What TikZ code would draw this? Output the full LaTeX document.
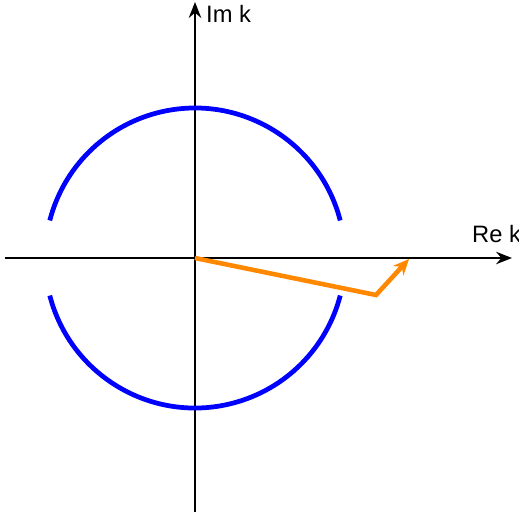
\documentclass[tikz,border=0pt]{standalone}
\usepackage{fontspec}
\setmainfont{Liberation Sans}
\usetikzlibrary{arrows.meta}
\definecolor{pathorange}{RGB}{255,136,0}
\begin{document}
\begin{tikzpicture}[x=0.02cm, y=0.02cm, font=\fontsize{13.5}{15}\selectfont,
  axis/.style={line width=1.6pt, -{Stealth[length=9pt, width=7pt]}},
  circ/.style={blue, line width=2.7pt},
  contour/.style={pathorange, line width=2.6pt, -{Stealth[length=9pt, width=8pt]}}]
\useasboundingbox (-195,-257) rectangle (324,258);
\coordinate (origin) at (0,0);
\coordinate (left) at (-190,0);
\coordinate (right) at (317,0);
\coordinate (bottom) at (0,-254);
\coordinate (top) at (0,256);
\draw[axis] (left) -- (right);
\draw[axis] (bottom) -- (top);
\node (im) [anchor=west] at (5,244) {Im k};
\node (re) [anchor=west] at (271,24) {Re k};
\draw[circ] (14.5:150) arc (14.5:165.5:150);
\draw[circ] (194.5:150) arc (194.5:345.5:150);
\coordinate (bend) at (181,-37);
\coordinate (tip) at (214,-1);
\draw[contour] (origin) -- (bend) -- (tip);
\end{tikzpicture}
\end{document}
